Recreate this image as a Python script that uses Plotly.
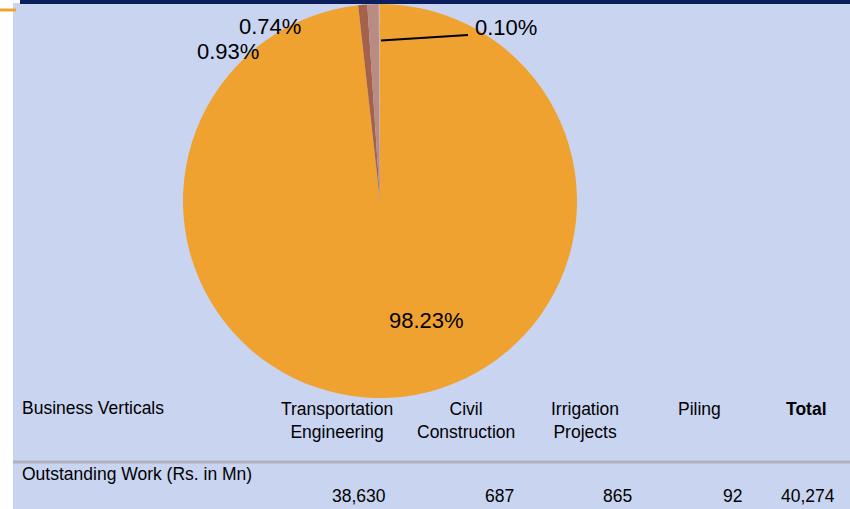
import plotly.graph_objects as go

# ---- data ----
slice_names = ["Transportation Engineering", "Civil Construction", "Irrigation Projects", "Piling"]
slice_pct = [98.23, 0.74, 0.93, 0.10]
slice_colors = ["#EFA22F", "#A5614A", "#B88C82", "#D2B4AC"]

header_row_label = "Business Verticals"
headers = ["Transportation<br>Engineering", "Civil<br>Construction", "Irrigation<br>Projects", "Piling", "<b>Total</b>"]
row_label = "Outstanding Work (Rs. in Mn)"
row_values = ["38,630", "687", "865", "92", "40,274"]

W, H = 850, 509
def px(x): return x / W
def py(y): return 1 - y / H

fig = go.Figure()

cx, cy, r = 380, 201, 197
fig.add_trace(go.Pie(
    labels=slice_names, values=slice_pct, sort=False, direction="clockwise", rotation=0,
    marker=dict(colors=slice_colors, line=dict(width=0)),
    textinfo="none", hoverinfo="label+percent", showlegend=False,
    domain=dict(x=[px(cx - r), px(cx + r)], y=[py(cy + r), py(cy - r)]),
))

shapes = [
    dict(type="rect", xref="paper", yref="paper", x0=px(13), x1=1, y0=0, y1=py(3),
         fillcolor="#C9D4F1", line=dict(width=0), layer="below"),
    dict(type="rect", xref="paper", yref="paper", x0=px(20), x1=1, y0=py(4), y1=1,
         fillcolor="#0B1F5E", line=dict(width=0), layer="below"),
    dict(type="line", xref="paper", yref="paper", x0=0, x1=px(16), y0=py(10), y1=py(10),
         line=dict(color="#EFA22F", width=3)),
    dict(type="line", xref="paper", yref="paper", x0=px(13), x1=1, y0=py(462), y1=py(462),
         line=dict(color="#B0B2BC", width=3)),
    # leader line for 0.10%
    dict(type="line", xref="paper", yref="paper", x0=px(381), x1=px(468), y0=py(40.5), y1=py(35),
         line=dict(color="black", width=2)),
]

lab_font = dict(family="Liberation Sans, Arial, sans-serif", size=22, color="black")
pct_pos = [(426, 320), (270, 26), (228, 52), (506, 28)]
ann = []
for p, (x, y) in zip(slice_pct, pct_pos):
    ann.append(dict(x=px(x), y=py(y), xref="paper", yref="paper", text=f"{p:.2f}%",
                    showarrow=False, font=lab_font, xanchor="center", yanchor="middle"))

tfont = dict(family="Liberation Sans, Arial, sans-serif", size=17.5, color="black")
ann.append(dict(x=px(20), y=py(408), xref="paper", yref="paper", text=header_row_label,
                showarrow=False, font=tfont, xanchor="left", yanchor="middle"))
hdr_x = [337, 466, 585, 699, 806]
for h, x in zip(headers, hdr_x):
    ann.append(dict(x=px(x), y=py(397), xref="paper", yref="paper", text=h, showarrow=False,
                    font=tfont, xanchor="center", yanchor="top", align="center"))
ann.append(dict(x=px(20), y=py(474), xref="paper", yref="paper", text=row_label,
                showarrow=False, font=tfont, xanchor="left", yanchor="middle"))
val_x = [388, 516, 634, 744, 837]
for v, x in zip(row_values, val_x):
    ann.append(dict(x=px(x), y=py(496), xref="paper", yref="paper", text=v, showarrow=False,
                    font=tfont, xanchor="right", yanchor="middle"))

fig.update_layout(width=W, height=H, margin=dict(l=0, r=0, t=0, b=0),
                  paper_bgcolor="white", plot_bgcolor="white",
                  shapes=shapes, annotations=ann)
fig.write_html("out.html", config={"displayModeBar": False})

# remove default body margin so the figure fills the window exactly
with open("out.html", "r", encoding="utf-8") as f:
    html = f.read()
html = html.replace("<body>", '<body style="margin:0;padding:0;overflow:hidden">', 1)
with open("out.html", "w", encoding="utf-8") as f:
    f.write(html)
